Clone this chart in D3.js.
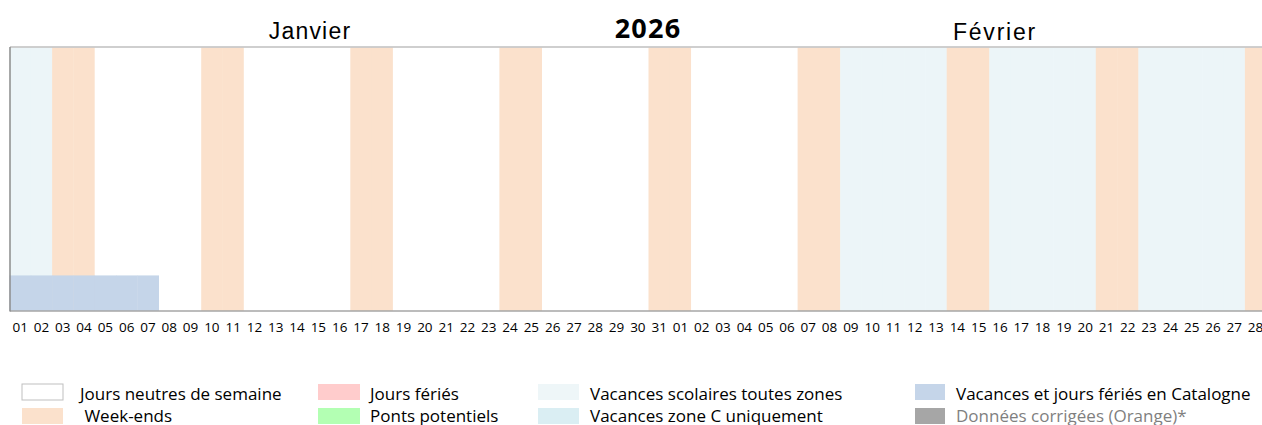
<!DOCTYPE html>
<html>
<head>
<meta charset="utf-8">
<title>Calendrier 2026</title>
<script src="https://cdn.jsdelivr.net/npm/d3@7"></script>
<style>
  body { margin: 0; background: #fff; }
  svg { display: block; }
</style>
</head>
<body>
<svg width="1262" height="425"></svg>
<script>
// jours affichés (axe x)
var dayLabels = ["01","02","03","04","05","06","07","08","09","10","11","12","13","14","15","16",
  "17","18","19","20","21","22","23","24","25","26","27","28","29","30","31",
  "01","02","03","04","05","06","07","08","09","10","11","12","13","14","15","16",
  "17","18","19","20","21","22","23","24","25","26","27","28"];
var dayMonths = ["01","01","01","01","01","01","01","01","01","01","01","01","01","01","01","01",
  "01","01","01","01","01","01","01","01","01","01","01","01","01","01","01",
  "02","02","02","02","02","02","02","02","02","02","02","02","02","02","02","02",
  "02","02","02","02","02","02","02","02","02","02","02","02"];
// type de chaque jour : N neutre, W week-end, V vacances toutes zones
var dayTypes = ["V","V","W","W","N","N","N","N","N","W","W","N","N","N","N","N",
  "W","W","N","N","N","N","N","W","W","N","N","N","N","N","W",
  "W","N","N","N","N","N","W","W","V","V","V","V","V","W","W",
  "V","V","V","V","V","W","W","V","V","V","V","V","W"];
// vacances et jours fériés en Catalogne
var catalogneDays = ["01-01","01-02","01-03","01-04","01-05","01-06","01-07"];
var catalogneValue = 0.135;

var months = ["Janvier","Février"];
var year = "2026";

var legendLabels = ["Jours neutres de semaine"," Week-ends","Jours fériés","Ponts potentiels",
  "Vacances scolaires toutes zones","Vacances zone C uniquement",
  "Vacances et jours fériés en Catalogne","Données corrigées (Orange)*"];
var legendColors = ["#ffffff","#fbe1cc","#ffcccc","#b3ffb3","#eef6f8","#daeef3","#c5d5e9","#a6a6a6"];

var typeColor = {N: "#ffffff", W: "#fbe1cc", V: "#ecf5f8"};

var svg = d3.select("svg");
var keys = dayLabels.map(function(d, i){ return dayMonths[i] + "-" + d; });

var x = d3.scaleBand().domain(keys).range([9.5, 9.5 + 21.3 * keys.length]).padding(0);
var y = d3.scaleLinear().domain([0, 1]).range([311, 47.5]);

// fonds des jours
svg.append("g").selectAll("rect")
  .data(keys)
  .enter().append("rect")
  .attr("x", function(d){ return x(d); })
  .attr("width", x.bandwidth() + 0.4)
  .attr("y", y(1))
  .attr("height", y(0) - y(1))
  .attr("fill", function(d, i){ return typeColor[dayTypes[i]]; });

// barre Catalogne
svg.append("g").selectAll("rect")
  .data(catalogneDays)
  .enter().append("rect")
  .attr("x", function(d){ return x(d); })
  .attr("width", x.bandwidth() + 0.4)
  .attr("y", y(catalogneValue))
  .attr("height", y(0) - y(catalogneValue))
  .attr("fill", "#c5d5e9");

// bordures
svg.append("line").attr("x1", 10).attr("x2", 1262).attr("y1", 47).attr("y2", 47)
  .attr("stroke", "#bfbfbf").attr("stroke-width", 1.5);
svg.append("line").attr("x1", 10).attr("x2", 1262).attr("y1", 311).attr("y2", 311)
  .attr("stroke", "#a6a6a6").attr("stroke-width", 1.5);
svg.append("line").attr("x1", 10).attr("x2", 10).attr("y1", 47).attr("y2", 311.5)
  .attr("stroke", "#8c8c8c").attr("stroke-width", 1.5);

// axe x
var xAxis = d3.axisBottom(x).tickSize(0).tickPadding(0)
  .tickFormat(function(d, i){ return dayLabels[i]; });
var gx = svg.append("g").attr("transform", "translate(0,322)").call(xAxis);
gx.select(".domain").remove();
gx.selectAll("text")
  .attr("font-family", "Open Sans")
  .attr("font-size", 13.5)
  .attr("fill", "#000");

// titres
svg.append("text").attr("x", 310).attr("y", 39).attr("text-anchor", "middle")
  .attr("font-family", "Liberation Sans").attr("font-size", 23)
  .attr("letter-spacing", 1.2).text(months[0]);
svg.append("text").attr("x", 995).attr("y", 40).attr("text-anchor", "middle")
  .attr("font-family", "Liberation Sans").attr("font-size", 23)
  .attr("letter-spacing", 1.8).text(months[1]);
svg.append("text").attr("x", 648).attr("y", 38).attr("text-anchor", "middle")
  .attr("font-family", "Open Sans").attr("font-weight", "bold").attr("font-size", 27)
  .attr("letter-spacing", 1.2).text(year);

// légende
var legendPos = [[22,80],[22,80],[318,370],[318,370],[538,590],[538,590],[915,956],[915,956]];
var legendBoxW = [41,41,42,42,41,41,30,30];
var lg = svg.append("g").selectAll("g")
  .data(legendLabels)
  .enter().append("g")
  .attr("transform", function(d, i){ return "translate(0," + (i % 2 === 0 ? 384 : 408) + ")"; });
lg.append("rect")
  .attr("x", function(d, i){ return legendPos[i][0]; })
  .attr("width", function(d, i){ return legendBoxW[i]; })
  .attr("height", 16)
  .attr("fill", function(d, i){ return legendColors[i]; })
  .attr("stroke", function(d, i){ return i === 0 ? "#bfbfbf" : "none"; });
lg.append("text")
  .attr("x", function(d, i){ return legendPos[i][1]; })
  .attr("y", function(d, i){ return i % 2 === 0 ? 16 : 13.5; })
  .attr("font-family", "Open Sans")
  .attr("font-size", 17)
  .attr("xml:space", "preserve")
  .style("white-space", "pre")
  .attr("fill", function(d, i){ return i === 7 ? "#7f7f7f" : "#000"; })
  .text(function(d){ return d; });
</script>
</body>
</html>
